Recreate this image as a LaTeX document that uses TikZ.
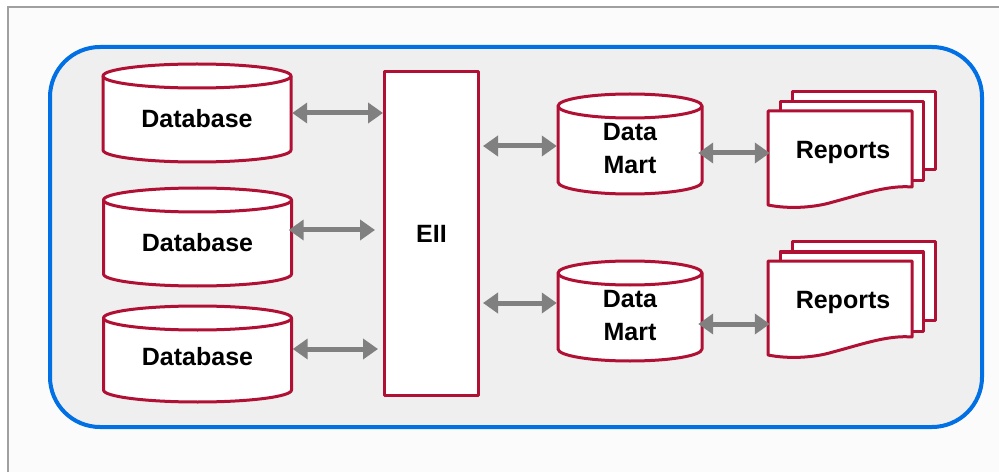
\documentclass[tikz,border=0pt]{standalone}
\usepackage{fontspec}
\setmainfont{Liberation Sans}
\usetikzlibrary{arrows.meta}

\definecolor{frameline}{RGB}{160,160,160}
\definecolor{pagebg}{RGB}{251,251,251}
\definecolor{panelfill}{RGB}{239,239,239}
\definecolor{panelline}{RGB}{0,112,228}
\definecolor{boxred}{RGB}{176,16,52}
\definecolor{linkgray}{RGB}{128,128,128}

\pgfdeclarelayer{bg}
\pgfsetlayers{bg,main}

\tikzset{
  lbl/.style={font=\bfseries\fontsize{25}{33}\selectfont, align=center, inner sep=0pt},
  shapeline/.style={draw=boxred, line width=3pt, fill=white, line join=round},
  link/.style={draw=linkgray, line width=5pt,
    {Triangle[length=15pt,width=20pt]}-{Triangle[length=15pt,width=20pt]}},
}

% cylinder around a node: name, half width, top, bottom, cap radius (relative to the node centre)
\newcommand\cylbox[5]{%
  \begin{pgfonlayer}{bg}
    \path[shapeline] ([shift={(-#2,#3-#5)}]#1.center) -- ([shift={(-#2,#4+#5)}]#1.center)
      arc[start angle=180,end angle=360,x radius=#2,y radius=#5]
      -- ([shift={(#2,#3-#5)}]#1.center)
      arc[start angle=0,end angle=180,x radius=#2,y radius=#5] -- cycle;
    \draw[shapeline, fill=none] ([shift={(-#2,#3-#5)}]#1.center)
      arc[start angle=180,end angle=360,x radius=#2,y radius=#5];
  \end{pgfonlayer}}

% stack of three report pages around a node
\newcommand\reportstack[1]{%
  \begin{pgfonlayer}{bg}
    \path[shapeline] ([shift={(-51,-18)}]#1.center) rectangle ([shift={(92,60)}]#1.center);
    \path[shapeline] ([shift={(-63,-29)}]#1.center) rectangle ([shift={(80,50)}]#1.center);
    \path[shapeline] ([shift={(-75,41)}]#1.center) -- ([shift={(69,41)}]#1.center)
      -- ([shift={(69,-35)}]#1.center)
      .. controls ([shift={(45,-33)}]#1.center) and ([shift={(20,-42)}]#1.center) .. ([shift={(-10,-50)}]#1.center)
      .. controls ([shift={(-30,-56)}]#1.center) and ([shift={(-55,-57)}]#1.center) .. ([shift={(-75,-53)}]#1.center)
      -- cycle;
  \end{pgfonlayer}}

\begin{document}
\begin{tikzpicture}[x=1pt,y=1pt]
  \useasboundingbox (0,0) rectangle (999,472);

  % page and outer panel
  \begin{pgfonlayer}{bg}
    \fill[white] (0,0) rectangle (999,472);
    \fill[pagebg] (8,0) rectangle (999,465);
    \draw[frameline, line width=2pt] (8,0) -- (8,465) -- (999,465);
    \draw[panelline, fill=panelfill, line width=4pt, rounded corners=50pt] (50,45) rectangle (982,425);
  \end{pgfonlayer}

  % sources
  \node[lbl, minimum width=190pt] (db1) at (197,353) {Database};
  \node[lbl, minimum width=190pt] (db2) at (197.5,229) {Database};
  \node[lbl, minimum width=190pt] (db3) at (197.5,115) {Database};
  \cylbox{db1}{94}{55}{-43}{12}
  \cylbox{db2}{94}{55}{-43}{12}
  \cylbox{db3}{94}{51}{-45}{12}

  % integration layer
  \node[lbl, shapeline, minimum width=94pt, minimum height=324pt] (eii) at (431.5,238.5) {EII};

  % data marts
  \node[lbl, minimum width=146pt] (dm1) at (630,323) {Data\\Mart};
  \node[lbl, minimum width=146pt] (dm2) at (630,156) {Data\\Mart};
  \cylbox{dm1}{72}{55}{-45}{12}
  \cylbox{dm2}{72}{55}{-45}{12}

  % reports
  \node[lbl, minimum width=150pt, minimum height=94pt] (rep1) at (843,320) {Reports};
  \node[lbl, minimum width=150pt, minimum height=94pt] (rep2) at (843,170) {Reports};
  \reportstack{rep1}
  \reportstack{rep2}

  % links
  \draw[link] ([yshift=6pt]db1.east) -- ([yshift=6pt]db1.east -| eii.west);
  \draw[link, shorten <=-4pt, shorten >=8pt] ([yshift=13pt]db2.east) -- ([yshift=13pt]db2.east -| eii.west);
  \draw[link, shorten >=5pt] ([yshift=8pt]db3.east) -- ([yshift=8pt]db3.east -| eii.west);
  \draw[link, shorten <=3pt] ([yshift=3pt]dm1.west -| eii.east) -- ([yshift=3pt]dm1.west);
  \draw[link, shorten <=3pt] ([yshift=13pt]dm2.west -| eii.east) -- ([yshift=13pt]dm2.west);
  \draw[link, shorten <=-5pt, shorten >=-2pt] ([yshift=-4pt]dm1.east) -- ([yshift=-4pt]dm1.east -| rep1.west);
  \draw[link, shorten <=-5pt, shorten >=-2pt] ([yshift=-8pt]dm2.east) -- ([yshift=-8pt]dm2.east -| rep2.west);
\end{tikzpicture}
\end{document}
